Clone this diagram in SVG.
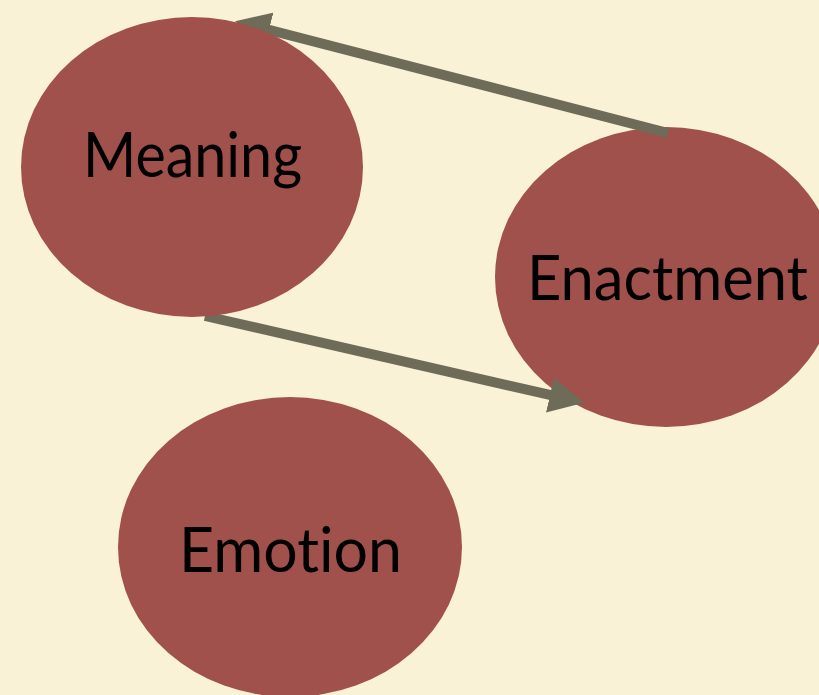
<svg xmlns="http://www.w3.org/2000/svg" width="819" height="695" viewBox="0 0 819 695">
  <style>
    .bg { fill: #faf2d6; }
    .node { fill: #a1514b; }
    .label { font-family: Lato, "Open Sans", "Liberation Sans", sans-serif; font-size: 61px; fill: #000; text-anchor: middle; font-variant-ligatures: none; }
    .link { stroke: #6f6b59; stroke-width: 10; fill: none; marker-end: url(#head); }
  </style>
  <defs>
    <marker id="head" markerUnits="userSpaceOnUse" viewBox="0 0 35 36" refX="1" refY="18" markerWidth="35" markerHeight="36" orient="auto">
      <path d="M0,0 L35,18 L0,36 Z" fill="#6f6b59"/>
    </marker>
  </defs>

  <rect class="bg" x="0" y="0" width="819" height="695"/>

  <g id="enactment">
    <ellipse class="node" cx="666" cy="277" rx="171" ry="150"/>
    <text class="label" x="667.5" y="300" textLength="281" lengthAdjust="spacingAndGlyphs">Enactment</text>
  </g>

  <g id="emotion">
    <ellipse class="node" cx="290" cy="547" rx="172" ry="150"/>
    <text class="label" x="290.5" y="572" textLength="223" lengthAdjust="spacingAndGlyphs">Emotion</text>
  </g>

  <g id="connectors">
    <line class="link" x1="668" y1="133" x2="268" y2="29.7"/>
    <line class="link" x1="205" y1="316" x2="551" y2="395.2"/>
  </g>

  <g id="meaning">
    <ellipse class="node" cx="192" cy="167" rx="171" ry="150"/>
    <text class="label" x="192.5" y="177" textLength="219" lengthAdjust="spacingAndGlyphs">Meaning</text>
  </g>
</svg>
